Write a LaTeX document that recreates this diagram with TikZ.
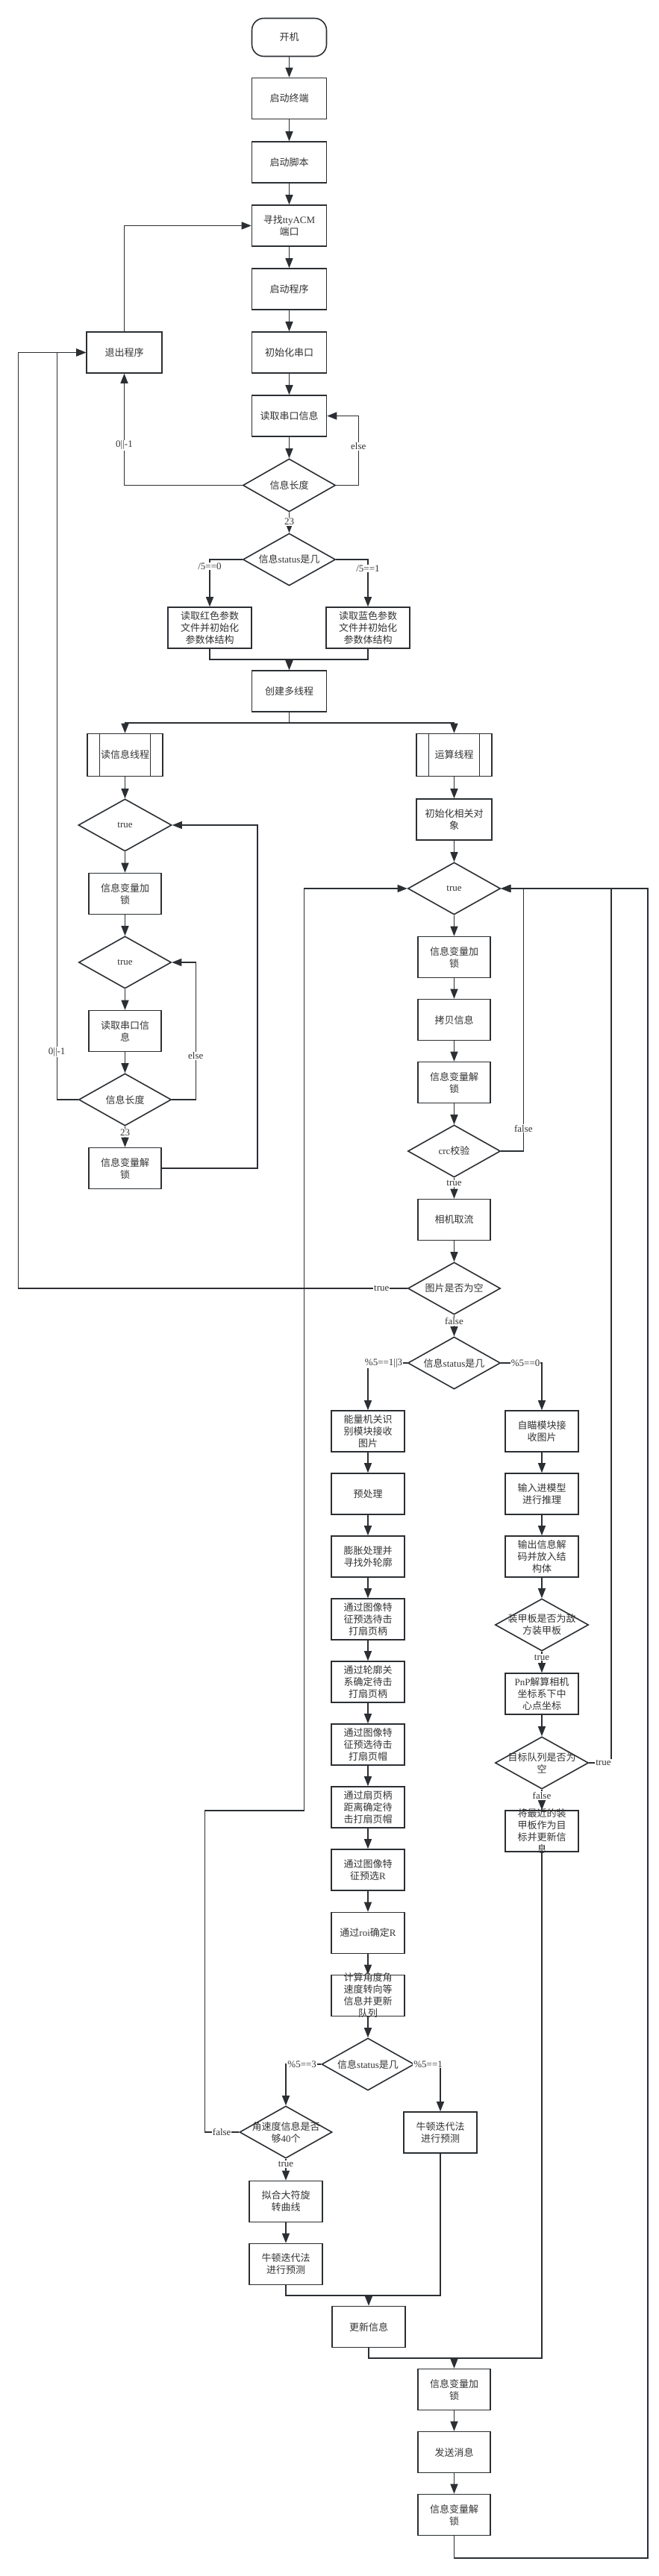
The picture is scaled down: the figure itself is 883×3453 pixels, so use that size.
\documentclass[tikz,border=0pt]{standalone}
\usepackage{fontspec}
\setmainfont{Liberation Serif}
\newfontfamily\cjk{Noto Sans CJK SC}
\usetikzlibrary{shapes.geometric,arrows.meta}
\newcommand\latn[1]{{\rmfamily #1}}
\definecolor{lc}{HTML}{2B2F33}
\definecolor{tx}{HTML}{333333}
\tikzset{
  box/.style={draw=lc, line width=1.6pt, minimum width=98pt, minimum height=55pt, inner sep=2pt, align=center, font=\cjk\fontsize{13}{16}\selectfont, text=tx},
  term/.style={box, rounded corners=16pt},
  dia/.style={diamond, draw=lc, line width=1.6pt, minimum width=124pt, minimum height=70pt, inner sep=0pt},
  dtx/.style={align=center, font=\cjk\fontsize{13}{16}\selectfont, text=tx, inner sep=0pt},
  conn/.style={draw=lc, line width=1.4pt},
  arr/.style={conn, -{Triangle[length=13pt,width=10pt]}},
  lab/.style={fill=white, inner sep=1pt, font=\rmfamily\fontsize{13}{14}\selectfont, text=tx},
  inl/.style={draw=lc, line width=1pt}
}
\begin{document}
\begin{tikzpicture}[x=1pt,y=-1pt]
\fill[white] (0,0) rectangle (883,3453);
\useasboundingbox (0,0) rectangle (883,3453);

% main column
\node[term, minimum width=100pt, minimum height=51pt] (start) at (387.5,50) {开机};
\node[box, minimum width=100pt] (n1) at (387.5,132) {启动终端};
\node[box, minimum width=100pt] (n2) at (387.5,217.5) {启动脚本};
\node[box, minimum width=100pt] (n3) at (387.5,302.5) {寻找\latn{ttyACM}\\端口};
\node[box, minimum width=100pt] (n4) at (387.5,387.5) {启动程序};
\node[box, minimum width=100pt] (n5) at (387.5,472.5) {初始化串口};
\node[box, minimum width=100pt] (n6) at (387.5,557.5) {读取串口信息};
\node[box, minimum width=101pt] (exitp) at (166.5,472.5) {退出程序};
\node[dia, minimum height=71pt] (d1) at (387.5,650.5) {};
\node[dtx] (d1t) at (d1) {信息长度};
\node[dia] (d2) at (387.5,750) {};
\node[dtx] (d2t) at (d2) {信息\latn{status}是几};
\node[box, minimum width=112pt] (red) at (281,841.5) {读取红色参数\\文件并初始化\\参数体结构};
\node[box, minimum width=112pt] (blue) at (493,841.5) {读取蓝色参数\\文件并初始化\\参数体结构};
\node[box, minimum width=100pt] (mt) at (387.5,926.5) {创建多线程};
\coordinate (j1) at (387.5,884);
\coordinate (j2) at (387.5,969);
\node[box, minimum width=101pt, minimum height=57pt] (t1) at (167.5,1012) {读信息线程};
\node[box, minimum width=101pt, minimum height=57pt] (t2) at (608.5,1012) {运算线程};
\draw[inl] ([xshift=17pt]t1.north west) -- ([xshift=17pt]t1.south west);
\draw[inl] ([xshift=-17pt]t1.north east) -- ([xshift=-17pt]t1.south east);
\draw[inl] ([xshift=17pt]t2.north west) -- ([xshift=17pt]t2.south west);
\draw[inl] ([xshift=-17pt]t2.north east) -- ([xshift=-17pt]t2.south east);

% left thread
\node[dia, minimum width=125pt] (ld1) at (167.5,1106) {};
\node[dtx] (ld1t) at (ld1) {\latn{true}};
\node[box, minimum width=97pt] (l1) at (167.5,1198) {信息变量加\\锁};
\node[dia] (ld2) at (167.5,1290) {};
\node[dtx] (ld2t) at (ld2) {\latn{true}};
\node[box, minimum width=97pt] (l2) at (167.5,1382) {读取串口信\\息};
\node[dia] (ld3) at (167.5,1474) {};
\node[dtx] (ld3t) at (ld3) {信息长度};
\node[box, minimum width=97pt] (l3) at (167.5,1566) {信息变量解\\锁};

% right thread
\node[box, minimum width=101pt] (r0) at (608.5,1098.5) {初始化相关对\\象};
\node[dia] (rd1) at (608.5,1191) {};
\node[dtx] (rd1t) at (rd1) {\latn{true}};
\node[box, minimum width=97pt] (r1) at (608.5,1283) {信息变量加\\锁};
\node[box, minimum width=97pt] (r2) at (608.5,1367) {拷贝信息};
\node[box, minimum width=97pt] (r3) at (608.5,1451) {信息变量解\\锁};
\node[dia] (rd2) at (608.5,1543) {};
\node[dtx] (rd2t) at (rd2) {\latn{crc}校验};
\node[box, minimum width=97pt] (r4) at (608.5,1635) {相机取流};
\node[dia] (rd3) at (608.5,1727) {};
\node[dtx] (rd3t) at (rd3) {图片是否为空};
\node[dia] (rd4) at (608.5,1827) {};
\node[dtx] (rd4t) at (rd4) {信息\latn{status}是几};

% energy column
\node[box] (e1) at (493,1918.5) {能量机关识\\别模块接收\\图片};
\node[box] (e2) at (493,2002.5) {预处理};
\node[box] (e3) at (493,2086.5) {膨胀处理并\\寻找外轮廓};
\node[box] (e4) at (493,2170.5) {通过图像特\\征预选待击\\打扇页柄};
\node[box] (e5) at (493,2254.5) {通过轮廓关\\系确定待击\\打扇页柄};
\node[box] (e6) at (493,2338.5) {通过图像特\\征预选待击\\打扇页帽};
\node[box] (e7) at (493,2422.5) {通过扇页柄\\距离确定待\\击打扇页帽};
\node[box] (e8) at (493,2506.5) {通过图像特\\征预选\latn{R}};
\node[box] (e9) at (493,2591) {通过\latn{roi}确定\latn{R}};
\node[box] (e10) at (493,2675) {};
\node[dtx] (e10t) at (e10) {计算角度角\\速度转向等\\信息并更新\\队列};
\node[dia] (ed1) at (493,2767) {};
\node[dtx] (ed1t) at (ed1) {信息\latn{status}是几};
\node[dia] (ed2) at (383,2858) {};
\node[dtx] (ed2t) at (ed2) {角速度信息是否\\够\latn{40}个};
\node[box] (nR) at (590,2858.5) {牛顿迭代法\\进行预测};
\node[box] (fit) at (383,2951) {拟合大符旋\\转曲线};
\node[box] (nL) at (383,3035) {牛顿迭代法\\进行预测};
\node[box] (upd) at (494,3119) {更新信息};
\coordinate (j3) at (494,3077);

% armor column
\node[box] (a1) at (726,1918.5) {自瞄模块接\\收图片};
\node[box] (a2) at (726,2002.5) {输入进模型\\进行推理};
\node[box] (a3) at (726,2086.5) {输出信息解\\码并放入结\\构体};
\node[dia, minimum width=125pt] (ad1) at (726,2178) {};
\node[dtx] (ad1t) at (ad1) {装甲板是否为敌\\方装甲板};
\node[box] (a4) at (726,2270.5) {\latn{PnP}解算相机\\坐标系下中\\心点坐标};
\node[dia, minimum width=125pt] (ad2) at (726,2363) {};
\node[dtx] (ad2t) at (ad2) {目标队列是否为\\空};
\node[box] (a5) at (726,2454.5) {};
\node[dtx] (a5t) at (a5) {将最近的装\\甲板作为目\\标并更新信\\息};

% bottom
\coordinate (j4) at (608.5,3161);
\node[box, minimum width=97pt] (lk) at (608.5,3203) {信息变量加\\锁};
\node[box, minimum width=97pt] (send) at (608.5,3287) {发送消息};
\node[box, minimum width=97pt] (ulk) at (608.5,3371) {信息变量解\\锁};

% ---- connectors: main
\draw[arr] (start) -- (n1);
\draw[arr] (n1) -- (n2);
\draw[arr] (n2) -- (n3);
\draw[arr] (n3) -- (n4);
\draw[arr] (n4) -- (n5);
\draw[arr] (n5) -- (n6);
\draw[arr] (n6) -- (d1.north);
\draw[arr] (exitp.north) |- (n3.west);
\draw[arr] (d1.west) -| node[lab,pos=0.68]{0||-1} (exitp.south);
\draw[arr] (d1.east) -- ++(30,0) |- node[lab,pos=0.28]{else} (n6.east);
\draw[arr] (d1.south) -- node[lab,pos=0.45]{23} (d2.north);
\draw[arr] (d2.west) -| node[lab,pos=0.5,yshift=-9pt]{/5==0} (red.north);
\draw[arr] (d2.east) -| node[lab,pos=0.5,yshift=-12pt]{/5==1} (blue.north);
\draw[conn] (red.south) |- (j1);
\draw[conn] (blue.south) |- (j1);
\draw[arr] (j1) -- (mt.north);
\draw[arr] (mt.south) -- (j2) -| (t1.north);
\draw[arr] (j2) -| (t2.north);

% left thread
\draw[arr] (t1) -- (ld1.north);
\draw[arr] (ld1.south) -- (l1);
\draw[arr] (l1) -- (ld2.north);
\draw[arr] (ld2.south) -- (l2);
\draw[arr] (l2) -- (ld3.north);
\draw[arr] (ld3.south) -- node[lab,pos=0.3]{23} (l3);
\draw[arr] (l3.east) -- ++(128,0) |- (ld1.east);
\draw[arr] (ld3.east) -- ++(32,0) |- node[lab,pos=0.16]{else} (ld2.east);
\draw[arr] (ld3.west) -- ++(-28.5,0) |- node[lab,pos=0.032]{0||-1} (exitp.west);

% right thread
\draw[arr] (t2) -- (r0);
\draw[arr] (r0) -- (rd1.north);
\draw[arr] (rd1.south) -- (r1);
\draw[arr] (r1) -- (r2);
\draw[arr] (r2) -- (r3);
\draw[arr] (r3) -- (rd2.north);
\draw[arr] (rd2.south) -- node[lab,pos=0.27]{true} (r4);
\draw[arr] (rd2.east) -- ++(30,0) |- node[lab,pos=0.043]{false} (rd1.east);
\draw[arr] (r4) -- (rd3.north);
\draw[arr] (rd3.west) -- node[lab,pos=0.066]{true} ++(-521.5,0) |- (exitp.west);
\draw[arr] (rd3.south) -- node[lab,pos=0.3]{false} (rd4.north);
\draw[arr] (rd4.west) -| node[lab,pos=0.3]{\%5==1||3} (e1.north);
\draw[arr] (rd4.east) -| node[lab,pos=0.3]{\%5==0} (a1.north);

% energy
\draw[arr] (e1) -- (e2);
\draw[arr] (e2) -- (e3);
\draw[arr] (e3) -- (e4);
\draw[arr] (e4) -- (e5);
\draw[arr] (e5) -- (e6);
\draw[arr] (e6) -- (e7);
\draw[arr] (e7) -- (e8);
\draw[arr] (e8) -- (e9);
\draw[arr] (e9) -- (e10);
\draw[arr] (e10) -- (ed1.north);
\draw[arr] (ed1.west) -| node[lab,pos=0.27]{\%5==3} (ed2.north);
\draw[arr] (ed1.east) -| node[lab,pos=0.26]{\%5==1} (nR.north);
\draw[arr] (ed2.west) -- node[lab]{false} ++(-46,0) -- ++(0,-431) -- ++(133,0) |- (rd1.west);
\draw[arr] (ed2.south) -- node[lab,pos=0.25]{true} (fit);
\draw[arr] (fit) -- (nL);
\draw[conn] (nL.south) |- (j3);
\draw[conn] (nR.south) |- (j3);
\draw[arr] (j3) -- (upd.north);

% armor
\draw[arr] (a1) -- (a2);
\draw[arr] (a2) -- (a3);
\draw[arr] (a3) -- (ad1.north);
\draw[arr] (ad1.south) -- node[lab,pos=0.27]{true} (a4);
\draw[arr] (a4) -- (ad2.north);
\draw[arr] (ad2.south) -- node[lab,pos=0.3]{false} (a5);
\draw[arr] (ad2.east) -- node[lab,pos=0.65]{true} ++(29.5,0) |- (rd1.east);

% bottom
\draw[conn] (upd.south) |- (j4);
\draw[conn] (a5.south) |- (j4);
\draw[arr] (j4) -- (lk.north);
\draw[arr] (lk) -- (send);
\draw[arr] (send) -- (ulk);
\draw[arr] (ulk.south) -- ++(0,29.5) -- ++(259.5,0) |- (rd1.east);
\end{tikzpicture}
\end{document}
